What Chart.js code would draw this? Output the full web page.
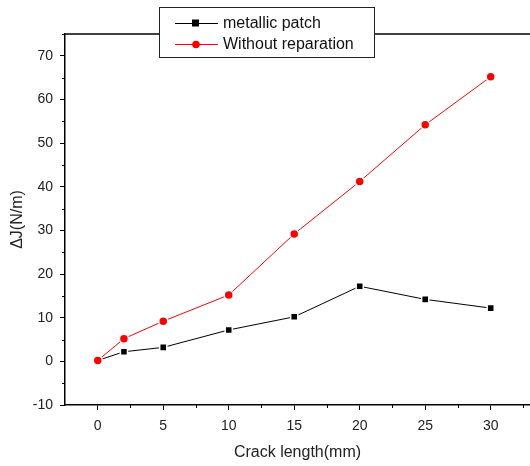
<!DOCTYPE html>
<html>
<head>
<meta charset="utf-8">
<script src="https://cdn.jsdelivr.net/npm/chart.js@4/dist/chart.umd.min.js"></script>
<style>
  html, body { margin: 0; padding: 0; background: #fff; }
  #wrap { width: 530px; height: 466px; position: relative; }
</style>
</head>
<body>
<div id="wrap"><canvas id="grafico"></canvas></div>
<script>
// datos
var crackLength = [0, 2, 5, 10, 15, 20, 25, 30];
var metallicPatch = [0.2, 2.2, 3.2, 7.2, 10.2, 17.2, 14.2, 12.2];
var withoutReparation = [0.2, 5.2, 9.2, 15.2, 29.2, 41.2, 54.2, 65.2];
var xTicks = [0, 5, 10, 15, 20, 25, 30];
var yTicks = [-10, 0, 10, 20, 30, 40, 50, 60, 70];

var fuente = "'Liberation Sans', Arial, sans-serif";

function puntos(ys) {
    var out = [];
    for (var i in crackLength) {
        out.push({ x: crackLength[i], y: ys[i] });
    }
    return out;
}

// ticks menores + marco superior + leyenda
var extras = {
    id: 'extras',
    afterDraw: function(chart) {
        var ctx = chart.ctx;
        var xs = chart.scales.x, ys = chart.scales.y;
        var area = chart.chartArea;
        ctx.save();
        ctx.strokeStyle = '#000';
        ctx.lineWidth = 1;
        ctx.beginPath();
        for (var i = 0; i < xTicks.length; i++) {
            var px = Math.round(xs.getPixelForValue(xTicks[i] + 2.5)) + 0.5;
            if (px < area.right) { ctx.moveTo(px, area.bottom); ctx.lineTo(px, area.bottom + 3); }
        }
        for (var j = 0; j < yTicks.length; j++) {
            var py = Math.round(ys.getPixelForValue(yTicks[j] + 5)) + 0.5;
            if (py > area.top) { ctx.moveTo(area.left, py); ctx.lineTo(area.left - 3, py); }
        }
        ctx.stroke();
        ctx.lineWidth = 1.5;
        ctx.beginPath();
        ctx.moveTo(area.left, area.top);
        ctx.lineTo(area.right, area.top);
        ctx.stroke();

        // leyenda
        var bx = 159.5, by = 7.5, bw = 215, bh = 50;
        ctx.fillStyle = '#fff';
        ctx.fillRect(bx, by, bw, bh);
        ctx.lineWidth = 1;
        ctx.strokeStyle = '#222';
        ctx.strokeRect(bx, by, bw, bh);
        var filas = [chart.data.datasets[1], chart.data.datasets[0]];
        ctx.font = '16px ' + fuente;
        ctx.textBaseline = 'middle';
        for (var k = 0; k < filas.length; k++) {
            var ds = filas[k];
            var cy = 23 + k * 21;
            ctx.strokeStyle = ds.borderColor;
            ctx.lineWidth = 1;
            ctx.beginPath();
            ctx.moveTo(175, cy + 0.5);
            ctx.lineTo(218, cy + 0.5);
            ctx.stroke();
            ctx.fillStyle = ds.backgroundColor;
            if (ds.pointStyle === 'rect') {
                ctx.fillRect(192, cy - 3.5, 7, 7);
            } else {
                ctx.beginPath();
                ctx.arc(196, cy + 0.5, 3.8, 0, Math.PI * 2);
                ctx.fill();
            }
            ctx.fillStyle = '#111';
            ctx.fillText(ds.label, 223, cy + 1);
        }
        ctx.restore();
    }
};

new Chart(document.getElementById('grafico'), {
    type: 'line',
    data: {
        datasets: [{
            label: 'Without reparation',
            data: puntos(withoutReparation),
            borderColor: '#ff0000',
            backgroundColor: '#ff0000',
            borderWidth: 1,
            pointStyle: 'circle',
            pointRadius: 4.5,
            pointBorderColor: '#fff',
            pointBorderWidth: 1.5,
            order: 0
        }, {
            label: 'metallic patch',
            data: puntos(metallicPatch),
            borderColor: '#000000',
            backgroundColor: '#000000',
            borderWidth: 1,
            pointStyle: 'rect',
            pointRadius: 5,
            pointBorderColor: '#fff',
            pointBorderWidth: 1.5,
            order: 1
        }]
    },
    options: {
        responsive: true,
        maintainAspectRatio: false,
        animation: false,
        events: [],
        layout: { autoPadding: false, padding: { top: 34, right: 0, left: 0, bottom: 0 } },
        plugins: {
            legend: { display: false },
            tooltip: { enabled: false }
        },
        scales: {
            x: {
                type: 'linear',
                min: -2.5,
                max: 33,
                afterBuildTicks: function(s) { s.ticks = xTicks.map(function(v) { return { value: v }; }); },
                afterFit: function(s) { s.height = 61; s.paddingLeft = 0; s.paddingRight = 0; },
                border: { display: true, color: '#000', width: 1.5 },
                grid: { drawOnChartArea: false, drawTicks: true, tickLength: 5, tickColor: '#000', tickWidth: 1 },
                ticks: { color: '#222', font: { family: fuente, size: 14 }, padding: 8, maxRotation: 0 },
                title: { display: true, text: 'Crack length(mm)', color: '#222', font: { family: fuente, size: 16 }, padding: { top: 6 } }
            },
            y: {
                type: 'linear',
                min: -10,
                max: 75,
                afterBuildTicks: function(s) { s.ticks = yTicks.map(function(v) { return { value: v }; }); },
                afterFit: function(s) { s.width = 65; },
                border: { display: true, color: '#000', width: 1.5 },
                grid: { drawOnChartArea: false, drawTicks: true, tickLength: 5, tickColor: '#000', tickWidth: 1 },
                ticks: { color: '#222', font: { family: fuente, size: 14 }, padding: 7 },
                title: { display: true, text: '\u0394J(N/m)', color: '#222', font: { family: fuente, size: 16 }, padding: { top: 8, bottom: 4 } }
            }
        }
    },
    plugins: [extras]
});
</script>
</body>
</html>
